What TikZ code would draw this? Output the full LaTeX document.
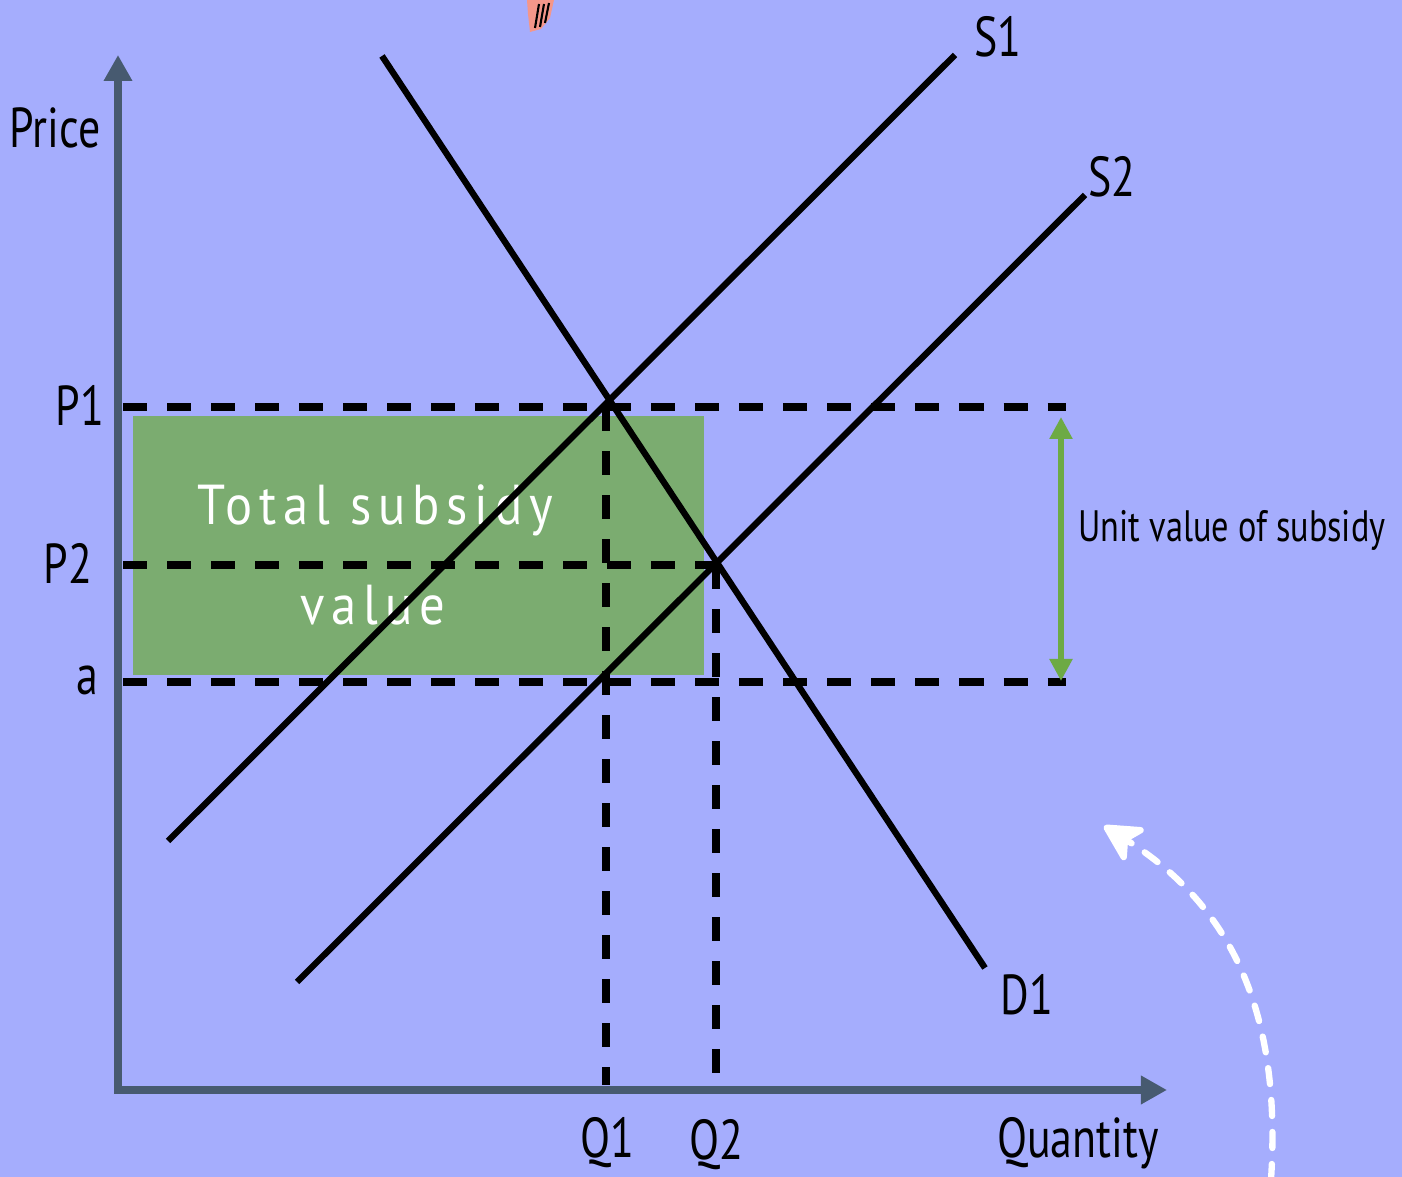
\documentclass[tikz,border=0pt]{standalone}
\usepackage{fontspec}
\setmainfont[FakeStretch=0.78]{PT Sans}
\newfontfamily\boxfont[FakeStretch=0.9,LetterSpace=12]{PT Sans}
\usepackage{xcolor}
\usetikzlibrary{arrows.meta}

\definecolor{bgblue}{HTML}{A5ADFD}
\definecolor{axisgray}{HTML}{475A70}
\definecolor{subsidygreen}{HTML}{7BAC70}
\definecolor{arrowgreen}{HTML}{6DAA45}
\definecolor{pinkish}{HTML}{F4968A}

\begin{document}
\begin{tikzpicture}[
	x=0.01cm, y=-0.01cm,
	>=Stealth,
	axis/.style={line width=2.3pt, draw=axisgray, -{Triangle[width=0.27cm,length=0.26cm]}},
	curve/.style={line width=1.8pt},
	guide/.style={line width=2pt, dash pattern=on 0.24cm off 0.2cm},
	lbl/.style={font=\fontsize{16}{19}\selectfont, inner sep=0pt},
	smalllbl/.style={font=\fontsize{12.5}{15}\selectfont, inner sep=0pt},
	boxlbl/.style={font=\boxfont\fontsize{16}{19}\selectfont, text=white, inner sep=0pt},
	unitarrow/.style={line width=1.5pt, draw=arrowgreen, {Triangle[width=0.22cm,length=0.22cm]}-{Triangle[width=0.22cm,length=0.22cm]}},
	hintarrow/.style={line width=1.8pt, white, line cap=round, dash pattern=on 0.16cm off 0.16cm, -{Stealth[round,width=0.46cm,length=0.44cm,inset=0.12cm]}}
	]
	
	% Background
	\fill[bgblue] (0,0) rectangle (1402,1177);
	\useasboundingbox (0,0) rectangle (1402,1177);
	
	% Fragment at the top
	\fill[pinkish] (527,0) -- (554,0) -- (550,18) -- (541,29) -- (530,32) -- (528,14) -- cycle;
	\draw[line width=0.6pt] (535,28) -- (539,4) (540,27) -- (544,4) (545,23) -- (549,3);
	
	% Subsidy area
	\fill[subsidygreen] (133,416) rectangle (704,675);
	\node[boxlbl] (total) at (375,510) {Total subsidy};
	\node[boxlbl] (value) at (373,605) {value};
	
	% Axes
	\coordinate (origin) at (118,1090);
	\coordinate (ytop) at (118,55);
	\coordinate (xend) at (1167,1090);
	\draw[axis] ([yshift=-1.1pt]origin) -- (ytop);
	\draw[axis] ([xshift=-1.1pt]origin) -- (xend);
	\node[lbl] (price) at (55,128) {Price};
	\node[lbl] (quantity) at (1078,1143) {Quantity};
	
	% Guide lines
	\coordinate (p1) at (123,407);
	\coordinate (p2) at (123,565);
	\coordinate (pa) at (123,682);
	\coordinate (e1) at (606,407);
	\coordinate (e2) at (716,565);
	\coordinate (q1) at (606,1085);
	\coordinate (q2) at (716,1085);
	\draw[guide] (p1) -- (1066,407);
	\draw[guide] (p2) -- (e2);
	\draw[guide] (pa) -- (1066,682);
	\draw[guide] (e1) -- (q1);
	\draw[guide] (e2) -- (q2);
	
	% Supply and demand
	\coordinate (s1start) at (168,841);
	\coordinate (s1end) at (955,55);
	\coordinate (s2start) at (297,982);
	\coordinate (s2end) at (1085,195);
	\coordinate (d1start) at (382,56);
	\coordinate (d1end) at (985,968);
	\draw[curve] (s1start) -- (s1end);
	\draw[curve] (s2start) -- (s2end);
	\draw[curve] (d1start) -- (d1end);
	\node[lbl] (s1) at (998,37) {S1};
	\node[lbl] (s2) at (1112,177) {S2};
	\node[lbl] (d1) at (1027,995) {D1};
	
	% Axis labels
	\node[lbl] (lp1) at (80,405) {P1};
	\node[lbl] (lp2) at (68,563) {P2};
	\node[lbl] (la) at (87,680) {a};
	\node[lbl] (lq1) at (607,1143) {Q1};
	\node[lbl] (lq2) at (716,1145) {Q2};
	
	% Unit value
	\coordinate (utop) at (1061,417);
	\coordinate (ubot) at (1061,681);
	\draw[unitarrow] (ubot) -- (utop);
	\node[smalllbl] (unit) at (1232,530) {Unit value of subsidy};
	
	% Hint arrow
	\coordinate (hstart) at (1271,1180);
	\coordinate (hend) at (1104,826);
	\draw[hintarrow] (hstart) .. controls (1282,1010) and (1230,905) .. (hend);
	
\end{tikzpicture}
\end{document}
